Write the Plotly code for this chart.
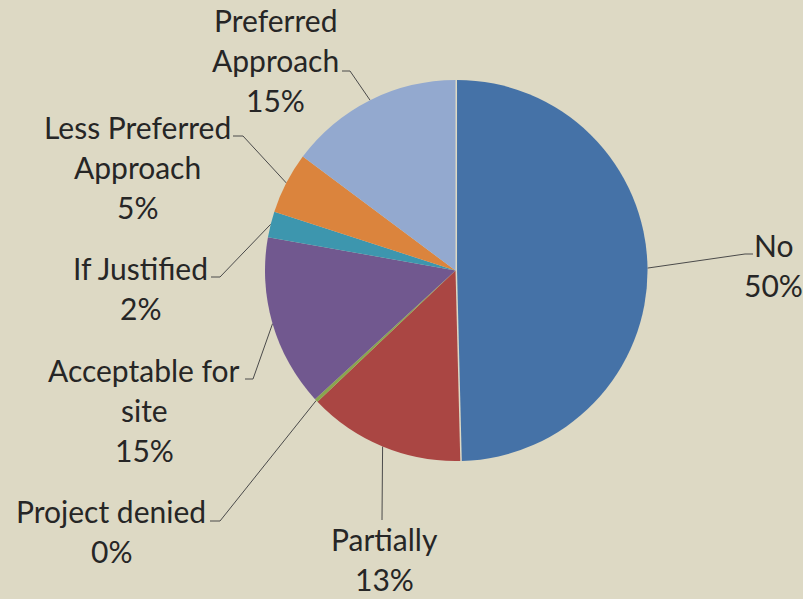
import math
import plotly.graph_objects as go

# Survey answers, clockwise from 12 o'clock
categories = ["No", "Partially", "Project denied", "Acceptable for<br>site",
              "If Justified", "Less Preferred<br>Approach", "Preferred<br>Approach"]
shares = [49.6, 13.3, 0.3, 14.6, 2.2, 5.2, 14.8]

colors = ["#4572A7", "#AA4643", "#89A54E", "#71588F", "#3D96AE", "#DB843D", "#93A9CF"]
pulls = [0.008, 0, 0, 0, 0, 0, 0]

W, H = 803, 599
CX, CY, R = 455.5, 270.5, 190.5
BG = "#DDD9C4"
TXT = "#262626"
LINE_GAP = 40

# label block placement (centre x, first line y) and leader-line bend points
label_pos = [(773, 245), (384, 539), (111, 511), (144, 370),
             (140, 268), (137, 127), (275, 20)]
leader_bends = [[(745, 254), (753, 254)],
                [(382, 520)],
                [(220, 521), (210, 521)],
                [(253, 379), (245, 379)],
                [(220, 277), (211, 277)],
                [(243, 136), (233, 136)],
                [(350, 71), (342, 71)]]

total = sum(shares)
maxpull = max(pulls)
half = R * (1 + maxpull)

fig = go.Figure()
fig.add_trace(go.Pie(
    labels=[c.replace("<br>", " ") for c in categories],
    values=shares,
    sort=False,
    direction="clockwise",
    rotation=0,
    pull=pulls,
    marker=dict(colors=colors, line=dict(width=0)),
    textinfo="none",
    hoverinfo="label+percent",
    domain=dict(x=[(CX - half) / W, (CX + half) / W],
                y=[(H - CY - half) / H, (H - CY + half) / H]),
    showlegend=False,
))

annotations = []
cum = 0.0
for cat, v, p, (lx, ly), bends in zip(categories, shares, pulls, label_pos, leader_bends):
    mid = (cum + v / 2) / total * 2 * math.pi
    cum += v
    ox = p * R * math.sin(mid)
    oy = -p * R * math.cos(mid)
    ax = CX + ox + R * math.sin(mid)
    ay = CY + oy - R * math.cos(mid)
    xs = [ax] + [b[0] for b in bends]
    ys = [ay] + [b[1] for b in bends]
    fig.add_trace(go.Scatter(x=xs, y=ys, mode="lines",
                             line=dict(color="#4a4a4a", width=1),
                             hoverinfo="skip", showlegend=False))
    lines = cat.split("<br>") + [f"{round(v / total * 100)}%"]
    for i, t in enumerate(lines):
        annotations.append(dict(x=lx, y=ly + i * LINE_GAP, xref="x", yref="y",
                                text=t, showarrow=False, xanchor="center",
                                yanchor="middle",
                                font=dict(family="Lato", size=30, color=TXT)))

fig.update_layout(
    width=W, height=H,
    margin=dict(l=0, r=0, t=0, b=0),
    paper_bgcolor=BG, plot_bgcolor="rgba(0,0,0,0)",
    xaxis=dict(range=[0, W], visible=False, fixedrange=True, domain=[0, 1]),
    yaxis=dict(range=[H, 0], visible=False, fixedrange=True, domain=[0, 1]),
    annotations=annotations,
)

fig.write_html("out.html")
